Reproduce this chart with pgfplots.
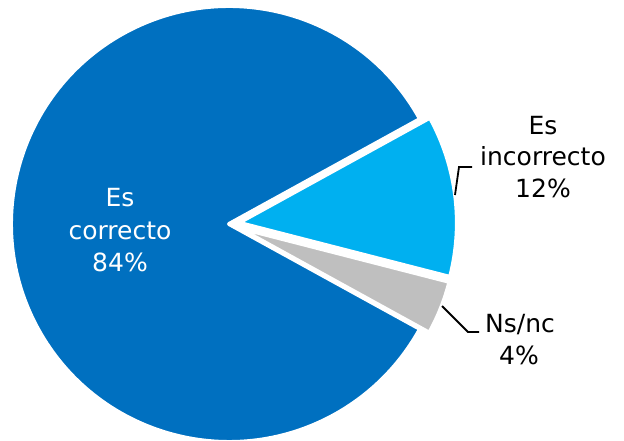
\documentclass[border=0pt]{standalone}
\usepackage{pgfplots}
\pgfplotsset{compat=1.18}
\usepackage{pgfplotstable}
\usepackage{fontspec}
\setmainfont{DejaVu Sans}

\definecolor{cBlue}{HTML}{0070C0}
\definecolor{cLight}{HTML}{00B0F0}
\definecolor{cGrey}{HTML}{BFBFBF}

% slices in drawing order (counter-clockwise from the start angle)
\pgfplotstableread{
label      value explode
correcto   84    0
nsnc       4     10
incorrecto 12    10
}\piedata

\begin{document}
\begin{tikzpicture}
\pgfplotstablegetelem{0}{value}\of\piedata \edef\vA{\pgfplotsretval}
\pgfplotstablegetelem{1}{value}\of\piedata \edef\vB{\pgfplotsretval}
\pgfplotstablegetelem{2}{value}\of\piedata \edef\vC{\pgfplotsretval}
\pgfplotstablegetelem{1}{explode}\of\piedata \edef\eB{\pgfplotsretval}
\pgfplotstablegetelem{2}{explode}\of\piedata \edef\eC{\pgfplotsretval}
\pgfmathsetmacro\cx{229}
\pgfmathsetmacro\cy{217}
\pgfmathsetmacro\R{218}
\pgfmathsetmacro\aA{28.8}
\pgfmathsetmacro\aB{\aA+3.6*\vA}
\pgfmathsetmacro\aC{\aB+3.6*\vB}
\pgfmathsetmacro\aD{\aC+3.6*\vC}
\pgfmathsetmacro\gx{\cx+\eB*cos((\aB+\aC)/2)}
\pgfmathsetmacro\gy{\cy+\eB*sin((\aB+\aC)/2)}
\pgfmathsetmacro\lx{\cx+\eC*cos((\aC+\aD)/2)}
\pgfmathsetmacro\ly{\cy+\eC*sin((\aC+\aD)/2)}
\begin{axis}[
    width=624pt, height=441pt, scale only axis,
    xmin=0, xmax=624, ymin=0, ymax=441,
    enlargelimits=false,
    hide axis, clip=false,
]
\filldraw[fill=cBlue, draw=white, line width=4pt, line join=round]
    (axis cs:\cx,\cy) -- ++(\aA:\R pt) arc[start angle=\aA, end angle=\aB, radius=\R pt] -- cycle;
\filldraw[fill=cGrey, draw=white, line width=4pt, line join=round]
    (axis cs:\gx,\gy) -- ++(\aB:\R pt) arc[start angle=\aB, end angle=\aC, radius=\R pt] -- cycle;
\filldraw[fill=cLight, draw=white, line width=4pt, line join=round]
    (axis cs:\lx,\ly) -- ++(\aC:\R pt) arc[start angle=\aC, end angle=\aD, radius=\R pt] -- cycle;

% labels
\tikzset{lbl/.style={anchor=base, inner sep=0pt, font=\fontsize{25}{30}\selectfont}}
\node[lbl, text=white] at (axis cs:120,234) {Es};
\node[lbl, text=white] at (axis cs:120,201) {correcto};
\node[lbl, text=white] at (axis cs:120,169) {84\%};
\node[lbl] at (axis cs:543,306) {Es};
\node[lbl] at (axis cs:543,275) {incorrecto};
\node[lbl] at (axis cs:543,243) {12\%};
\node[lbl] at (axis cs:520,108) {Ns/nc};
\node[lbl] at (axis cs:519,76) {4\%};

% leader lines
\draw[line width=1.8pt] (axis cs:455,246) -- (axis cs:459,274) -- (axis cs:472,274);
\draw[line width=1.8pt] (axis cs:442,135) -- (axis cs:468,109) -- (axis cs:479,109);
\end{axis}
\pgfresetboundingbox
\path[use as bounding box] (current axis.south west) rectangle (current axis.north east);
\end{tikzpicture}
\end{document}
